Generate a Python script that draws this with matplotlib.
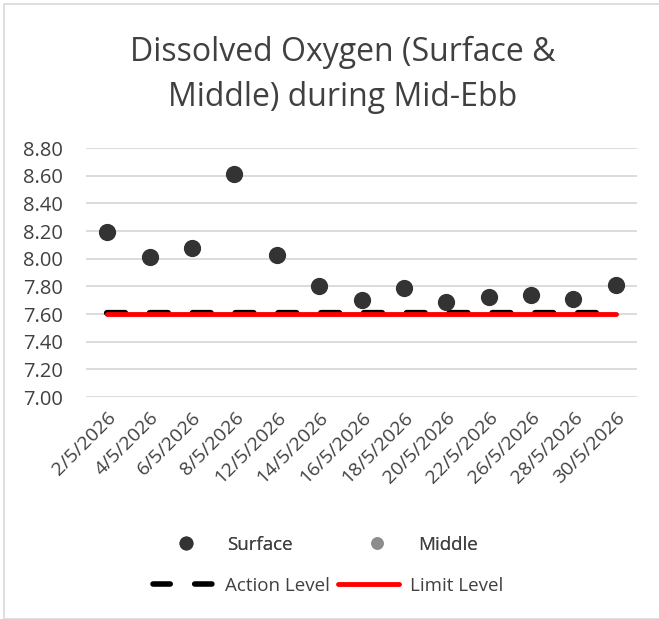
import matplotlib.pyplot as plt
import numpy as np
from matplotlib.lines import Line2D
from matplotlib.patches import Rectangle

dates = ['2/5/2026', '4/5/2026', '6/5/2026', '8/5/2026', '12/5/2026', '14/5/2026',
         '16/5/2026', '18/5/2026', '20/5/2026', '22/5/2026', '26/5/2026', '28/5/2026', '30/5/2026']
surface = [8.19, 8.01, 8.08, 8.61, 8.03, 7.80, 7.70, 7.79, 7.69, 7.72, 7.74, 7.71, 7.81]
middle = [np.nan] * len(dates)
action_level = [7.61] * len(dates)
limit_level = [7.60] * len(dates)

plt.rcParams['font.family'] = ['Open Sans', 'DejaVu Sans']

fig = plt.figure(figsize=(6.59, 6.19), dpi=100)
ax = fig.add_axes([86 / 659, 1 - 397 / 619, 551 / 659, 249 / 619])

x = np.arange(len(dates))
ax.plot(x, action_level, color='black', lw=4.5, dashes=(2.9, 3.95), dash_capstyle='round',
        solid_capstyle='round', zorder=2)
ax.plot(x, limit_level, color='#ff0000', lw=3.5, solid_capstyle='round', zorder=3)
ax.scatter(x, middle, s=110, color='#8c8c8c', zorder=4)
ax.scatter(x, surface, s=130, color='#333333', zorder=5)

ax.set_xlim(-0.5, len(dates) - 0.5)
ax.set_ylim(7.0, 8.8)
ax.set_yticks(np.arange(7.0, 8.81, 0.2))
ax.set_yticklabels([f'{v:.2f}' for v in np.arange(7.0, 8.81, 0.2)], fontsize=14.5, color='#404040')
ax.set_xticks(x)
ax.set_xticklabels(dates, rotation=45, ha='right', rotation_mode='anchor', fontsize=14, color='#404040')
ax.tick_params(axis='y', length=0, pad=16.5)
ax.tick_params(axis='x', length=0, pad=8)
ax.grid(axis='y', color='#d9d9d9', lw=1.3)
ax.set_axisbelow(True)
for s in ax.spines.values():
    s.set_visible(False)

fig.text(343 / 659, 1 - 52 / 619, 'Dissolved Oxygen (Surface &', ha='center', va='center', fontsize=23, color='#404040')
fig.text(343 / 659, 1 - 97 / 619, 'Middle) during Mid-Ebb', ha='center', va='center', fontsize=23, color='#404040')

h1 = [Line2D([], [], marker='o', ls='none', color='#333333', markersize=9),
      Line2D([], [], marker='o', ls='none', color='#8c8c8c', markersize=8)]
leg1 = fig.legend(h1, ['Surface', 'Middle'], loc='center left', bbox_to_anchor=(167 / 659, 1 - 545 / 619),
                  ncol=2, frameon=False, fontsize=13.5, columnspacing=3.5, handlelength=2,
                  handletextpad=1.2, borderpad=0, borderaxespad=0, labelcolor='#404040')
h2 = [Line2D([], [], color='black', lw=4, dashes=(3.1, 4.4), dash_capstyle='round'),
      Line2D([], [], color='#ff0000', lw=3.5, solid_capstyle='round')]
fig.legend(h2, ['Action Level', 'Limit Level'], loc='center left', bbox_to_anchor=(153 / 659, 1 - 586 / 619),
           ncol=2, frameon=False, fontsize=13.5, columnspacing=0.4, handlelength=3.3,
           handletextpad=0.55, borderpad=0, borderaxespad=0, labelcolor='#404040')
fig.add_artist(leg1)

fig.add_artist(Rectangle((4 / 659, 0.5 / 619), 1.2, 1 - 4.5 / 619, transform=fig.transFigure,
                         fill=False, edgecolor='#d9d9d9', lw=1.2))

fig.savefig('out.png', dpi=100)
